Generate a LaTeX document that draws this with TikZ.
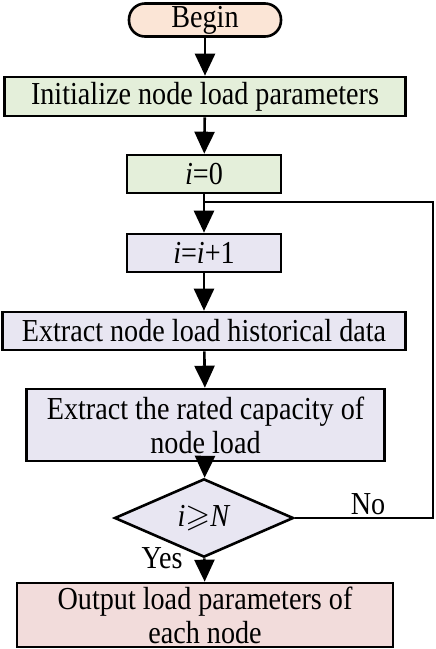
\documentclass[tikz,border=0pt]{standalone}
\usepackage{fontspec}
\setmainfont[FakeStretch=0.88]{Liberation Serif}
\usepackage{amssymb}
\usetikzlibrary{arrows.meta,shapes.geometric}
\definecolor{cpeach}{RGB}{251,229,214}
\definecolor{cgreen}{RGB}{228,239,218}
\definecolor{clav}{RGB}{232,230,242}
\definecolor{cpink}{RGB}{242,220,219}
\begin{document}
\begin{tikzpicture}[x=1pt,y=-1pt,
  box/.style={draw=black, line width=2.6pt, inner sep=0pt, align=center,
    font=\fontsize{32}{34}\selectfont},
  arr/.style={-{Triangle[width=20pt,length=22pt]}, line width=2.6pt},
  lbl/.style={inner sep=0pt, font=\fontsize{32}{34}\selectfont}
]
\useasboundingbox (0,0) rectangle (436,649);
\node[box, fill=cpeach, rounded corners=16pt, minimum width=152pt, minimum height=33pt] (begin) at (205,20) {Begin};
\node[box, fill=cgreen, minimum width=401pt, minimum height=39pt] (init) at (205,96.5) {Initialize node load parameters};
\node[box, fill=cgreen, minimum width=154pt, minimum height=38pt] (i0) at (204,174) {\textit{i}=0};
\node[box, fill=clav, minimum width=154pt, minimum height=38pt] (inc) at (204,253) {\textit{i}=\textit{i}+1};
\node[box, fill=clav, minimum width=403pt, minimum height=38pt] (hist) at (204,331) {Extract node load historical data};
\node[box, fill=clav, minimum width=358pt, minimum height=72pt] (rated) at (205.5,425) {Extract the rated capacity of\\node load};
\node[box, fill=clav, shape=diamond, minimum width=179pt, minimum height=50pt] (dec) at (204,518) {\textit{i}$\geqslant$\textit{N}};
\node[box, fill=cpink, minimum width=376pt, minimum height=64pt] (out) at (205,615) {Output load parameters of\\each node};
\coordinate (loopj) at (205,202);
\coordinate (loopr) at (433,518);
\node[lbl] (no) at (368,504) {No};
\node[lbl] (yes) at (162,558) {Yes};
\draw[arr] (begin) -- (init);
\draw[arr] (init) -- (i0);
\draw[arr] (i0) -- (inc);
\draw[arr] (inc) -- (hist);
\draw[arr] (hist) -- (rated);
\draw[arr] (rated) -- (dec);
\draw[arr] (dec) -- (out);
\draw[line width=2.6pt] (dec.east) -- (loopr) |- (loopj);
\end{tikzpicture}
\end{document}
